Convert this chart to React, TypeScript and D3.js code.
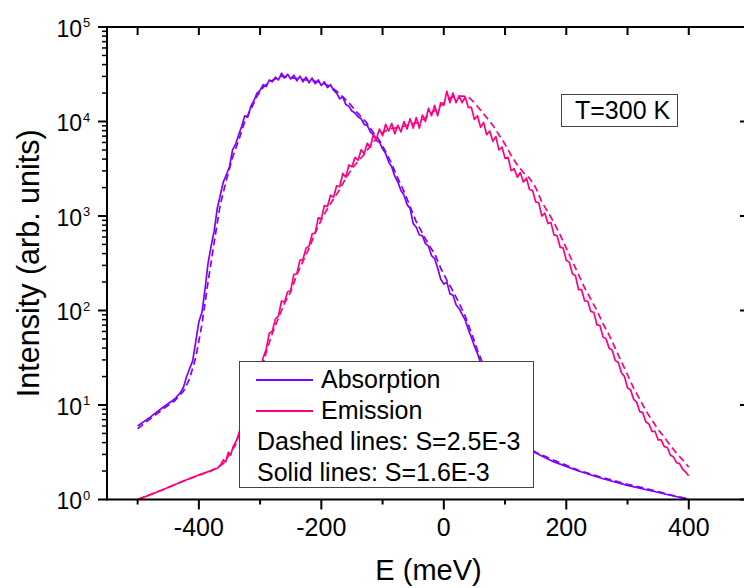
import React from "react";
import * as d3 from "d3";

// E (meV), intensity (arb. units)
const absSolid: [number, number][] = [
  [-500, 6.0], [-480, 7.4], [-460, 9.3], [-440, 11.5], [-430, 13.5], [-425, 15.5],
  [-420, 20], [-410, 29.5], [-400, 76], [-395, 95], [-390, 166], [-385, 316],
  [-380, 480], [-375, 690], [-370, 1200], [-365, 1660], [-360, 2300], [-355, 2750],
  [-350, 3300], [-345, 5000], [-340, 5750], [-335, 7240], [-330, 8900], [-325, 11500],
  [-320, 11200], [-315, 14500], [-310, 16600], [-305, 20000], [-300, 21400], [-295, 24500],
  [-290, 23400], [-285, 27500], [-280, 26300], [-275, 29500], [-270, 27500], [-265, 32400],
  [-260, 28800], [-255, 31600], [-250, 28200], [-245, 30900], [-240, 26900], [-235, 30200],
  [-230, 26300], [-225, 29500], [-220, 25700], [-215, 28800], [-210, 25100], [-205, 27500],
  [-200, 24000], [-195, 26300], [-190, 22900], [-185, 24500], [-180, 21400], [-175, 20000],
  [-170, 17400], [-165, 18200], [-160, 15100], [-155, 14500], [-150, 12900], [-145, 12300],
  [-140, 11200], [-135, 10700], [-130, 9300], [-125, 9100], [-120, 7760], [-115, 7240],
  [-110, 6300], [-105, 6030], [-100, 5130], [-95, 4570], [-90, 3720], [-85, 3310],
  [-80, 2630], [-75, 2290], [-70, 1860], [-65, 1660], [-60, 1320], [-55, 1200],
  [-50, 830], [-45, 760], [-40, 630], [-35, 620], [-30, 510], [-25, 480],
  [-20, 380], [-15, 355], [-10, 280], [-5, 214], [0, 190], [5, 200],
  [10, 150], [15, 145], [20, 115], [25, 105], [30, 91], [35, 79],
  [40, 63], [45, 52], [50, 42], [55, 35], [60, 28], [80, 12.6],
  [100, 7.1], [120, 4.8], [140, 3.4], [150, 3.1], [180, 2.5], [220, 2.0],
  [260, 1.66], [300, 1.41], [340, 1.23], [370, 1.11], [400, 1.0],
];

const absDashed: [number, number][] = [
  [-500, 5.6], [-480, 7.1], [-460, 8.9], [-440, 11], [-425, 14], [-415, 19],
  [-405, 32], [-395, 71], [-385, 200], [-375, 525], [-365, 1320], [-355, 2400],
  [-345, 4170], [-335, 6300], [-325, 10000], [-315, 13500], [-305, 18600], [-295, 22900],
  [-285, 26300], [-275, 28200], [-265, 30200], [-255, 29500], [-245, 28800], [-235, 28200],
  [-225, 27500], [-215, 26900], [-205, 26300], [-195, 25100], [-185, 23400], [-175, 20900],
  [-165, 18200], [-155, 15800], [-145, 13200], [-135, 11200], [-125, 9500], [-115, 7600],
  [-105, 6300], [-95, 4800], [-85, 3550], [-75, 2500], [-65, 1820], [-55, 1260],
  [-45, 870], [-35, 660], [-25, 500], [-15, 400], [-5, 280], [5, 210],
  [15, 160], [25, 120], [35, 87], [45, 58], [55, 38], [65, 26],
  [80, 14], [100, 7.6], [120, 5.0], [140, 3.5], [150, 3.16], [180, 2.6],
  [220, 2.04], [260, 1.7], [300, 1.45], [340, 1.26], [370, 1.12], [400, 1.01],
];

const emiSolid: [number, number][] = [
  [-500, 1.0], [-480, 1.12], [-460, 1.26], [-440, 1.43], [-420, 1.62], [-400, 1.82],
  [-380, 2.02], [-370, 2.14], [-365, 2.29], [-360, 2.63], [-356, 2.51], [-352, 3.16],
  [-348, 2.95], [-344, 3.63], [-338, 4.27], [-330, 6.3], [-320, 10], [-310, 15.8],
  [-300, 22.9], [-295, 31.6], [-290, 38.9], [-285, 57.5], [-280, 60.3], [-275, 81.3],
  [-270, 87.1], [-265, 126], [-260, 123], [-255, 158], [-250, 162], [-245, 240],
  [-240, 245], [-235, 339], [-230, 347], [-225, 457], [-220, 479], [-215, 646],
  [-210, 661], [-205, 955], [-200, 933], [-195, 1290], [-190, 1260], [-185, 1660],
  [-180, 1580], [-175, 2090], [-170, 2040], [-165, 2820], [-160, 2570], [-155, 3470],
  [-150, 3310], [-145, 4170], [-140, 3890], [-135, 5010], [-130, 4570], [-125, 5890],
  [-120, 5370], [-115, 7240], [-110, 6610], [-105, 8320], [-100, 7080], [-95, 9330],
  [-90, 7940], [-85, 9550], [-80, 7410], [-75, 9120], [-70, 7760], [-65, 10000],
  [-60, 8320], [-55, 10700], [-50, 8510], [-45, 11000], [-40, 8510], [-35, 11700],
  [-30, 10000], [-25, 13800], [-20, 11500], [-15, 14800], [-10, 11500], [-5, 15800],
  [0, 14800], [5, 20900], [10, 15800], [15, 20000], [20, 15800], [25, 18600],
  [30, 15800], [35, 18200], [40, 14100], [45, 14100], [50, 10500], [55, 11500],
  [60, 8710], [65, 9770], [70, 7240], [75, 7940], [80, 6170], [85, 6920],
  [90, 5010], [95, 5370], [100, 4070], [105, 4170], [110, 3020], [115, 3160],
  [120, 2570], [125, 2880], [130, 2290], [135, 2510], [140, 1910], [145, 1860],
  [150, 1410], [155, 1380], [160, 1000], [165, 1070], [170, 832], [175, 851],
  [180, 631], [185, 617], [190, 468], [195, 457], [200, 339], [205, 324],
  [210, 245], [215, 234], [220, 166], [225, 166], [230, 126], [235, 126],
  [240, 97.7], [245, 95.5], [250, 70.8], [255, 69.2], [260, 52.5], [265, 50.1],
  [270, 39.8], [275, 38.0], [280, 29.5], [285, 28.2], [290, 21.9], [295, 20.0],
  [300, 15.1], [305, 14.5], [310, 11.5], [315, 10.7], [320, 8.5], [325, 8.3],
  [330, 6.6], [335, 6.3], [340, 5.25], [345, 5.25], [350, 4.27], [355, 4.27],
  [360, 3.63], [365, 3.55], [370, 2.95], [375, 2.82], [380, 2.45], [385, 2.4],
  [390, 2.09], [395, 1.95], [400, 1.78],
];

const emiDashed: [number, number][] = [
  [-500, 1.0], [-460, 1.26], [-420, 1.62], [-380, 2.0], [-360, 2.4], [-340, 3.8],
  [-320, 8.9], [-300, 20.9], [-290, 36.3], [-280, 57.5], [-270, 83], [-260, 120],
  [-250, 158], [-240, 240], [-230, 331], [-220, 457], [-210, 661], [-200, 912],
  [-190, 1200], [-180, 1510], [-170, 1910], [-160, 2510], [-150, 3160], [-140, 3800],
  [-130, 4470], [-120, 5500], [-110, 6610], [-100, 7590], [-90, 8320], [-80, 8510],
  [-70, 8710], [-60, 9120], [-50, 9550], [-40, 9770], [-30, 11000], [-20, 12300],
  [-10, 13800], [0, 15800], [10, 17800], [20, 18600], [30, 18600], [40, 18200],
  [50, 15800], [60, 13200], [70, 11000], [80, 9120], [90, 7240], [100, 5750],
  [110, 4370], [120, 3470], [130, 2880], [140, 2510], [150, 2000], [160, 1410],
  [170, 1100], [180, 851], [190, 631], [200, 457], [210, 331], [220, 240],
  [230, 174], [240, 132], [250, 100], [260, 72.4], [270, 55], [280, 39.8],
  [290, 28.8], [300, 20.9], [310, 15.1], [320, 11.5], [330, 8.7], [340, 6.9],
  [350, 5.5], [360, 4.57], [370, 3.72], [380, 3.09], [390, 2.63], [400, 2.19],
];

const xLabelTicks = [-400, -200, 0, 200, 400];
const xMinorTicks = [-500, -300, -100, 100, 300, 500];
const decades = [0, 1, 2, 3, 4, 5];
const series = [
  { label: "Absorption", color: "#8000ff" },
  { label: "Emission", color: "#ff0080" },
];
const notes = ["Dashed lines: S=2.5E-3", "Solid lines: S=1.6E-3"];
const tempLabel = "T=300 K";

const font = "'Liberation Sans', Arial, sans-serif";

export default function App() {
  const W = 744, H = 588;
  const left = 107, top = 27, right = 750, bottom = 499.5;
  const x = d3.scaleLinear().domain([-550, 500]).range([left, right]);
  const y = d3.scaleLog().domain([1, 1e5]).range([bottom, top]);
  const line = d3.line<[number, number]>().x(d => x(d[0])).y(d => y(d[1]));

  const minorY: number[] = [];
  decades.slice(0, -1).forEach(d => {
    for (let k = 2; k <= 9; k++) minorY.push(k * Math.pow(10, d));
  });
  const allX = [...xLabelTicks, ...xMinorTicks];

  return (
    <svg width={W} height={H} style={{ position: "absolute", left: 0, top: 0, background: "#fff" }}
      fontFamily={font}>
      <rect width={W} height={H} fill="#fff" />
      {/* curves */}
      <g fill="none" strokeWidth={1.7} strokeLinejoin="round">
        <path d={line(absDashed) ?? ""} stroke={series[0].color} strokeDasharray="7,4" />
        <path d={line(absSolid) ?? ""} stroke={series[0].color} />
        <path d={line(emiDashed) ?? ""} stroke={series[1].color} strokeDasharray="7,4" />
        <path d={line(emiSolid) ?? ""} stroke={series[1].color} />
      </g>

      {/* frame */}
      <g stroke="#000" strokeWidth={2}>
        <line x1={left} x2={right} y1={bottom} y2={bottom} />
        <line x1={left} x2={right} y1={top} y2={top} />
        <line x1={left} x2={left} y1={top - 1} y2={bottom + 1} />
        <line x1={right} x2={right} y1={top} y2={bottom} />
        {xLabelTicks.map(t => <line key={"b" + t} x1={x(t)} x2={x(t)} y1={bottom} y2={bottom + 10} />)}
        {xMinorTicks.map(t => <line key={"bm" + t} x1={x(t)} x2={x(t)} y1={bottom} y2={bottom + 5} />)}
        {allX.map(t => <line key={"t" + t} x1={x(t)} x2={x(t)} y1={top} y2={top + 8} />)}
        {decades.map(d => <line key={"l" + d} x1={left - 9} x2={left} y1={y(Math.pow(10, d))} y2={y(Math.pow(10, d))} />)}
        {minorY.map(v => <line key={"lm" + v} x1={left - 5} x2={left} y1={y(v)} y2={y(v)} strokeWidth={1.5} />)}
        {decades.map(d => <line key={"r" + d} x1={right - 10} x2={right} y1={y(Math.pow(10, d))} y2={y(Math.pow(10, d))} />)}
      </g>

      {xLabelTicks.map(t => (
        <text key={"xl" + t} x={x(t)} y={536} fontSize={25} textAnchor="middle">{t}</text>
      ))}
      {decades.map(d => (
        <g key={"yl" + d}>
          <text x={82} y={y(Math.pow(10, d)) + 9.5} fontSize={23} textAnchor="end">10</text>
          <text x={83} y={y(Math.pow(10, d))} fontSize={13}>{d}</text>
        </g>
      ))}

      <text x={(left + right) / 2} y={580} fontSize={29} textAnchor="middle">E (meV)</text>
      <text transform={`translate(39,${(top + bottom) / 2}) rotate(-90)`} fontSize={30.5} textAnchor="middle">
        Intensity (arb. units)
      </text>

      {/* legend */}
      <rect x={239.5} y={361.5} width={294} height={126} fill="#fff" stroke="#444" strokeWidth={1} />
      {series.map((s, i) => (
        <g key={s.label}>
          <line x1={256} x2={313} y1={380 + i * 31} y2={380 + i * 31} stroke={s.color} strokeWidth={2} />
          <text x={321} y={388 + i * 31} fontSize={25}>{s.label}</text>
        </g>
      ))}
      {notes.map((n, i) => (
        <text key={n} x={257} y={450 + i * 31} fontSize={25}>{n}</text>
      ))}

      <rect x={561.5} y={94.5} width={116} height={32} fill="#fff" stroke="#444" strokeWidth={1} />
      <text x={575} y={119} fontSize={25}>{tempLabel}</text>
    </svg>
  );
}
